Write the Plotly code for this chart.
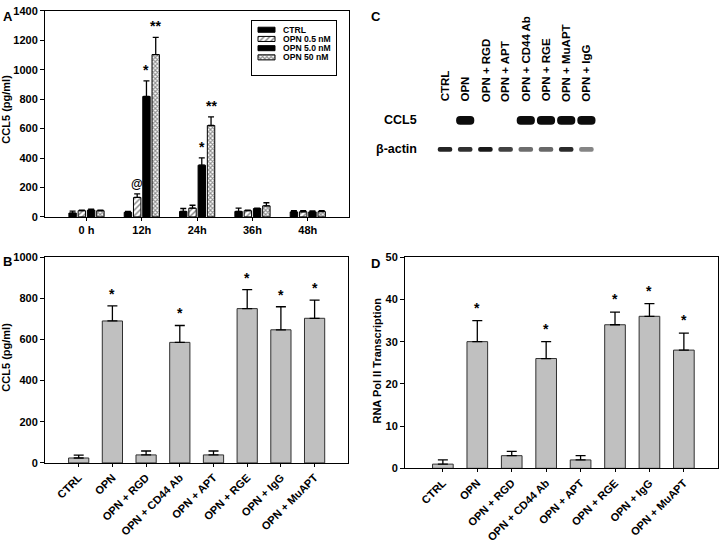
import plotly.graph_objects as go

# ---------------- Data ----------------
# Panel A: CCL5 secretion over time
time_labels = ["0 h", "12h", "24h", "36h", "48h"]
series_names = ["CTRL", "OPN 0.5 nM", "OPN 5.0 nM", "OPN 50 nM"]
ctrl_vals = [26, 31, 37, 37, 34]
ctrl_err = [13, 6, 20, 22, 8]
opn05_vals = [42, 132, 59, 42, 35]
opn05_err = [4, 24, 20, 3, 7]
opn5_vals = [46, 818, 351, 57, 34]
opn5_err = [7, 106, 50, 3, 7]
opn50_vals = [42, 1103, 621, 75, 36]
opn50_err = [4, 117, 59, 21, 7]
sig_ctrl = ["", "", "", "", ""]
sig_opn05 = ["", "@", "", "", ""]
sig_opn5 = ["", "*", "*", "", ""]
sig_opn50 = ["", "**", "**", "", ""]

# Panel B: CCL5 (pg/ml) with blockers
treatments = ["CTRL", "OPN", "OPN + RGD", "OPN + CD44 Ab", "OPN + APT",
              "OPN + RGE", "OPN + IgG", "OPN + MuAPT"]
b_vals = [24, 690, 39, 586, 39, 750, 647, 703]
b_err = [14, 73, 19, 82, 19, 92, 112, 88]
b_sig = ["", "*", "", "*", "", "*", "*", "*"]

# Panel C: western blot lanes and relative band intensities
blot_lanes = ["CTRL", "OPN", "OPN + RGD", "OPN + APT", "OPN + CD44 Ab",
              "OPN + RGE", "OPN + MuAPT", "OPN + IgG"]
ccl5_band = [0.0, 1.0, 0.0, 0.0, 1.0, 1.0, 1.0, 1.0]
actin_band = [0.9, 0.85, 0.95, 0.78, 0.6, 0.62, 0.88, 0.5]
blot_rows = ["β-actin", "CCL5"]

# Panel D: RNA Pol II transcription
d_vals = [1, 30, 3, 26, 2, 34, 36, 28]
d_err = [1, 5, 1, 4, 1, 3, 3, 4]
d_sig = ["", "*", "", "*", "", "*", "*", "*"]

# ---------------- Styling ----------------
W, H = 720, 543
FONT = "Liberation Sans, Arial, sans-serif"
TF = dict(family=FONT, size=11, color="black", weight="bold")


def px_x(p):
    return p / W


def px_y(p):
    return 1 - p / H


def yax(dom_top, dom_bot, rng, dtick, anchor):
    return dict(domain=[px_y(dom_bot), px_y(dom_top)], range=rng, dtick=dtick, anchor=anchor,
                showline=True, mirror=True, linecolor="black", linewidth=1,
                ticks="outside", ticklen=4, tickcolor="black", tickwidth=1,
                showgrid=False, zeroline=False, tickfont=TF, fixedrange=True)


def xax(left, right, rng, labels, anchor, angle=0):
    return dict(domain=[px_x(left), px_x(right)], range=rng, anchor=anchor,
                tickmode="array", tickvals=list(range(len(labels))), ticktext=labels,
                tickangle=angle, showline=True, mirror=True, linecolor="black",
                linewidth=1, ticks="outside", ticklen=3, tickcolor="black",
                showgrid=False, zeroline=False, tickfont=TF, fixedrange=True)


fig = go.Figure()
annotations = []

# ---------------- Panel A ----------------
BARGAP, GROUPGAP = 0.33, 0.2
nser = 4
slot = (1 - BARGAP) / nser
markers = [
    dict(color="black", line=dict(color="black", width=1)),
    dict(color="white", line=dict(color="black", width=1),
         pattern=dict(shape="/", fgcolor="black", bgcolor="white", size=4, solidity=0.35)),
    dict(color="black", line=dict(color="black", width=1)),
    dict(color="white", line=dict(color="black", width=1),
         pattern=dict(shape="x", fgcolor="#222", bgcolor="white", size=3, solidity=0.6)),
]
series = [
    (ctrl_vals, ctrl_err, sig_ctrl),
    (opn05_vals, opn05_err, sig_opn05),
    (opn5_vals, opn5_err, sig_opn5),
    (opn50_vals, opn50_err, sig_opn50),
]
xs = list(range(len(time_labels)))
for i, (vals, errs, sigs) in enumerate(series):
    fig.add_trace(go.Bar(
        x=xs, y=vals, name=series_names[i], marker=markers[i],
        error_y=dict(type="data", array=errs, arrayminus=[0] * len(errs), symmetric=False,
                     color="black", thickness=1.3, width=3),
        xaxis="x", yaxis="y", showlegend=False))
    off = -(1 - BARGAP) / 2 + slot * (i + 0.5)
    for j, s in enumerate(sigs):
        if s:
            annotations.append(dict(x=xs[j] + off, y=vals[j] + errs[j], xref="x", yref="y",
                                    text=s, showarrow=False, yanchor="bottom", yshift=1,
                                    font=dict(family=FONT, size=14 if s != "@" else 12,
                                              color="black", weight="bold")))

# Legend for panel A drawn in a small boxed axis (1 row unit = 9.5 px)
leg_rows = list(range(len(series_names)))
for i, name in enumerate(series_names):
    fig.add_trace(go.Bar(
        y=[leg_rows[i]], x=[17], base=[6], orientation="h", width=0.55, offset=-0.275,
        marker=markers[i], xaxis="x5", yaxis="y5", showlegend=False, hoverinfo="skip"))
    annotations.append(dict(x=30, y=leg_rows[i], xref="x5", yref="y5", text=name,
                            showarrow=False, xanchor="left", yanchor="middle", borderpad=0,
                            font=dict(family=FONT, size=8.6, color="black", weight="bold")))

# ---------------- Panel B ----------------
bar_style = dict(color="#c0c0c0", line=dict(color="#303030", width=1))
xb = list(range(len(treatments)))
fig.add_trace(go.Bar(
    x=xb, y=b_vals, marker=bar_style, width=0.6, offset=-0.3,
    error_y=dict(type="data", array=b_err, arrayminus=[0] * len(b_err), symmetric=False,
                 color="black", thickness=1.3, width=5),
    xaxis="x2", yaxis="y2", showlegend=False))
for j, s in enumerate(b_sig):
    if s:
        annotations.append(dict(x=xb[j], y=b_vals[j] + b_err[j], xref="x2", yref="y2",
                                text=s, showarrow=False, yanchor="bottom", yshift=2,
                                font=dict(family=FONT, size=14, color="black", weight="bold")))

# ---------------- Panel D ----------------
fig.add_trace(go.Bar(
    x=xb, y=d_vals, marker=bar_style, width=0.6, offset=-0.3,
    error_y=dict(type="data", array=d_err, arrayminus=[0] * len(d_err), symmetric=False,
                 color="black", thickness=1.3, width=5),
    xaxis="x4", yaxis="y4", showlegend=False))
for j, s in enumerate(d_sig):
    if s:
        annotations.append(dict(x=xb[j], y=d_vals[j] + d_err[j], xref="x4", yref="y4",
                                text=s, showarrow=False, yanchor="bottom", yshift=3,
                                font=dict(family=FONT, size=14, color="black", weight="bold")))

# ---------------- Panel C (blot) ----------------
xl = list(range(len(blot_lanes)))
row_specs = [  # (row index, intensities, band width in lane units, band height in row units, radius)
    (1, ccl5_band, 0.9, 0.3, 4),
    (0, actin_band, 0.72, 0.17, 2),
]
for row, inten, bw, bh, rad in row_specs:
    cols = [f"rgba(12,12,12,{a:.2f})" for a in inten]
    fig.add_trace(go.Bar(
        x=xl, y=[bh] * len(xl), base=[row - bh / 2] * len(xl), width=bw, offset=-bw / 2,
        marker=dict(color=cols, line=dict(width=0), cornerradius=rad),
        xaxis="x3", yaxis="y3", showlegend=False, hoverinfo="skip"))
for j, lab in enumerate(blot_lanes):
    annotations.append(dict(x=xl[j], xref="x3", y=px_y(101), yref="paper", text=lab,
                            textangle=-90, showarrow=False, yanchor="bottom", xanchor="center",
                            font=dict(family=FONT, size=11.5, color="black", weight="bold")))
for r, lab in enumerate(blot_rows):
    annotations.append(dict(x=px_x(419), xref="paper", y=r, yref="y3", text=lab,
                            showarrow=False, xanchor="right", yanchor="middle",
                            font=dict(family=FONT, size=12.5, color="black", weight="bold")))

# ---------------- Axis titles & panel letters ----------------
def ytitle(x, y, text):
    annotations.append(dict(x=px_x(x), y=px_y(y), xref="paper", yref="paper", text=text,
                            textangle=-90, showarrow=False, xanchor="center", yanchor="middle",
                            font=dict(family=FONT, size=11, color="black", weight="bold")))


ytitle(6, 107, "CCL5 (pg/ml)")
ytitle(6, 363, "CCL5 (pg/ml)")
ytitle(377, 366, "RNA Pol II Transcription")

for letter, x, y in [("A", 1, 1), ("B", 1, 254), ("C", 369, 1), ("D", 369, 256)]:
    annotations.append(dict(x=px_x(x), y=px_y(y), xref="paper", yref="paper", text=letter,
                            showarrow=False, xanchor="left", yanchor="top",
                            font=dict(family=FONT, size=13, color="black", weight="bold")))

fig.update_layout(
    width=W, height=H, margin=dict(l=0, r=0, t=0, b=0),
    paper_bgcolor="white", plot_bgcolor="white",
    barmode="group", bargap=BARGAP, bargroupgap=GROUPGAP,
    font=dict(family=FONT, color="black"),
    xaxis=xax(45, 349.3, [-0.75, 4.75], time_labels, "y"),
    yaxis=yax(5, 217.7, [0, 1400], 200, "x"),
    xaxis2=xax(45, 348.3, [-1, 8], treatments, "y2", angle=-45),
    yaxis2=yax(259.3, 471.7, [0, 1000], 200, "x2"),
    xaxis3=dict(domain=[px_x(360), 1], range=[(360 - 445) / 20.2, (720 - 445) / 20.2],
                anchor="y3", visible=False, fixedrange=True),
    yaxis3=dict(domain=[px_y(163), px_y(103)], range=[-0.5, 1.5], anchor="x3",
                visible=False, fixedrange=True),
    xaxis4=xax(405, 718.3, [-1.1, 8], treatments, "y4", angle=-45),
    yaxis4=yax(259.3, 477.3, [0, 50], 10, "x4"),
    xaxis5=dict(domain=[px_x(252), px_x(336)], range=[0, 84], anchor="y5",
                showline=True, mirror=True, linecolor="black", linewidth=1,
                showticklabels=False, ticks="", showgrid=False, zeroline=False,
                fixedrange=True),
    yaxis5=dict(domain=[px_y(71), px_y(15)], range=[4.89, -1.0], anchor="x5",
                showline=True, mirror=True, linecolor="black", linewidth=1,
                showticklabels=False, ticks="", showgrid=False, zeroline=False,
                fixedrange=True),
    annotations=annotations,
    showlegend=False,
)

fig.write_html("out.html", config={"displayModeBar": False},
               post_script="document.body.style.margin='0px';document.body.style.overflow='hidden';")
